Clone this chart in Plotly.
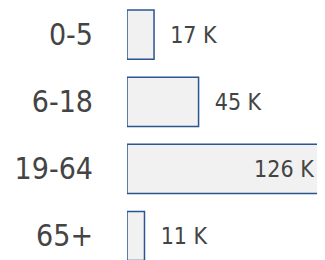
import plotly.graph_objects as go

categories = ["0-5", "6-18", "19-64", "65+"]
values_k = [17, 45, 126, 11]
value_labels = ["17 K", "45 K", "126 K", "11 K"]

NB = "\u00a0"
texts, positions = [], []
for v, lab in zip(values_k, value_labels):
    if v > 60:
        texts.append(lab + NB + "\u2009")
        positions.append("inside")
    else:
        texts.append(NB * 2 + lab)
        positions.append("outside")

FONT = "Liberation Sans Narrow, Arial Narrow, DejaVu Sans Condensed, sans-serif"

fig = go.Figure(
    go.Bar(
        y=categories,
        x=values_k,
        orientation="h",
        width=0.733,
        marker=dict(color="#f1f1f1", line=dict(color="#2b5590", width=1.5)),
        text=texts,
        textposition=positions,
        insidetextanchor="end",
        textfont=dict(family=FONT, size=23, color="#444444"),
        cliponaxis=True,
        hoverinfo="skip",
    )
)

fig.update_layout(
    width=317,
    height=252,
    margin=dict(l=119, r=0, t=0, b=0, autoexpand=False),
    paper_bgcolor="white",
    plot_bgcolor="white",
    showlegend=False,
    uniformtext=dict(mode=False),
)
fig.update_xaxes(range=[0, 124.5], visible=False, showgrid=False, zeroline=False)
fig.update_yaxes(
    range=[3.358, -0.398],
    automargin=False,
    showgrid=False,
    zeroline=False,
    showline=False,
    ticks="outside",
    ticklen=27,
    tickcolor="rgba(0,0,0,0)",
    tickfont=dict(family=FONT, size=30, color="#444444"),
)

fig.write_html("out.html")
